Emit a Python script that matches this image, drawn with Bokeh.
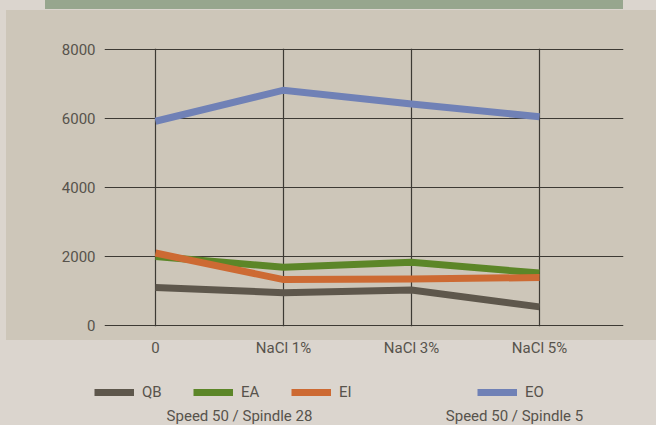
from bokeh.plotting import figure
from bokeh.models import Range1d, FixedTicker, Legend, LegendItem, Label
from bokeh.embed import file_html
from bokeh.resources import INLINE

# ---- data ----
categories = ["0", "NaCl 1%", "NaCl 3%", "NaCl 5%"]
qb = [1100, 950, 1030, 540]
ea = [2000, 1690, 1830, 1520]
ei = [2100, 1330, 1350, 1390]
eo = [5920, 6820, 6420, 6050]
y_ticks = [0, 2000, 4000, 6000, 8000]
series_names = ["QB", "EA", "EI", "EO"]
captions = ["Speed 50 / Spindle 28", "Speed 50 / Spindle 5"]

# ---- style ----
PAGE = "#dbd5ce"
PANEL = "#cdc6b9"
BAND = "#97a68e"
TXT = "#57534c"
GRID = "#3d3a34"
colors = ["#5e574c", "#5c8628", "#cd6a33", "#7081b6"]
FONT = "Roboto"

xs = list(range(len(categories)))

p = figure(width=656, height=425, output_backend="svg", toolbar_location=None,
           x_range=Range1d(-51 / 128, 3 + 84 / 128), y_range=Range1d(-29, 8029),
           min_border_left=104, min_border_right=33, min_border_top=48, min_border_bottom=99)
p.title.visible = False
p.border_fill_color = None
p.background_fill_color = None
p.outline_line_color = None
p.styles = {
    "position": "absolute", "left": "0px", "top": "0px",
    "background": (f"linear-gradient({BAND},{BAND}) 45px 0px / 578px 9px no-repeat, "
                   f"linear-gradient({PANEL},{PANEL}) 6px 10px / 650px 330px no-repeat, {PAGE}"),
}

# axes
p.yaxis.ticker = FixedTicker(ticks=y_ticks)
p.xaxis.ticker = FixedTicker(ticks=xs)
p.xaxis.major_label_overrides = {i: c for i, c in zip(xs, categories)}
for ax in (p.xaxis[0], p.yaxis[0]):
    ax.axis_line_color = None
    ax.major_tick_line_color = None
    ax.minor_tick_line_color = None
    ax.major_label_text_font = FONT
    ax.major_label_text_font_size = "15px"
    ax.major_label_text_color = TXT
p.yaxis.major_label_standoff = 3
p.xaxis.major_label_standoff = 6

for g in (p.xgrid[0], p.ygrid[0]):
    g.grid_line_color = GRID
    g.grid_line_width = 1.2

for vals, c in zip([qb, ea, ei, eo], colors):
    p.line(xs, vals, line_width=7, line_color=c, line_join="miter")

# ---- legend strip: a second figure laid over the page bottom, so nothing is clipped ----
p2 = figure(width=656, height=65, output_backend="svg", toolbar_location=None,
            x_range=Range1d(0, 1), y_range=Range1d(0, 1),
            x_axis_location=None, y_axis_location=None,
            min_border=0, min_border_left=0, min_border_right=0,
            min_border_top=0, min_border_bottom=0)
p2.title.visible = False
p2.border_fill_color = None
p2.background_fill_color = None
p2.outline_line_color = None
p2.xgrid.visible = False
p2.ygrid.visible = False
p2.styles = {"position": "absolute", "left": "0px", "top": "360px"}

nan = float("nan")
legend_x = [94, 193, 291, 477]
for name, c, vx in zip(series_names, colors, legend_x):
    r = p2.line(x=[nan], y=[nan], line_width=7, line_color=c)
    leg = Legend(items=[LegendItem(label=name, renderers=[r])], location=(vx, 23),
                 orientation="horizontal", padding=0, margin=0, spacing=0,
                 border_line_color=None, background_fill_alpha=0,
                 glyph_width=40, glyph_height=20, label_standoff=8,
                 label_text_font=FONT, label_text_font_size="15px", label_text_color=TXT)
    p2.add_layout(leg)

for txt, cx in zip(captions, [239, 514]):
    p2.add_layout(Label(x=cx, y=1, x_units="screen", y_units="screen", text=txt,
                        text_align="center", text_baseline="bottom",
                        text_font=FONT, text_font_size="15px", text_color=TXT))

open("out.html", "w").write(file_html([p, p2], INLINE))
